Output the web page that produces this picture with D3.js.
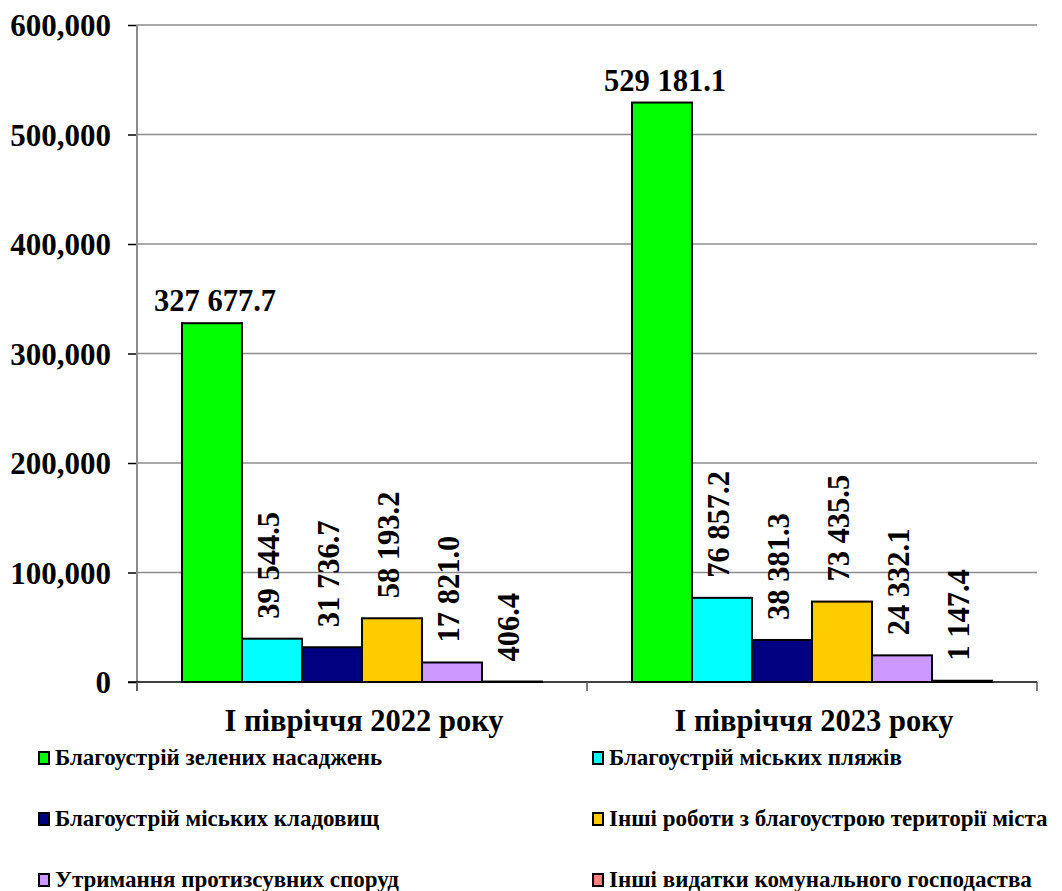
<!DOCTYPE html>
<html>
<head>
<meta charset="utf-8">
<script src="https://cdn.jsdelivr.net/npm/d3@7"></script>
<style>
html,body{margin:0;padding:0;background:#fff;}
</style>
</head>
<body>
<svg id="chart" width="1062" height="891"></svg>
<script>
const categories = ["І півріччя 2022 року", "І півріччя 2023 року"];
const seriesNames = [
  "Благоустрій зелених насаджень",
  "Благоустрій міських пляжів",
  "Благоустрій міських кладовищ",
  "Інші роботи з благоустрою території міста",
  "Утримання протизсувних споруд",
  "Інші видатки комунального господаства"
];
const values2022 = [327677.7, 39544.5, 31736.7, 58193.2, 17821.0, 406.4];
const values2023 = [529181.1, 76857.2, 38381.3, 73435.5, 24332.1, 1147.4];
const labels2022 = ["327 677.7", "39 544.5", "31 736.7", "58 193.2", "17 821.0", "406.4"];
const labels2023 = ["529 181.1", "76 857.2", "38 381.3", "73 435.5", "24 332.1", "1 147.4"];
const colors = ["#00FF00", "#00FFFF", "#000080", "#FFCC00", "#CC99FF", "#FF8080"];
const yTicks = [0, 100000, 200000, 300000, 400000, 500000, 600000];
const yTickLabels = ["0", "100,000", "200,000", "300,000", "400,000", "500,000", "600,000"];

(function () {
const seriesValues = [values2022, values2023];
const seriesLabels = [labels2022, labels2023];
const FONT = "'Liberation Serif', 'Times New Roman', Tinos, serif";

const svg = d3.select("#chart").attr("font-family", FONT).attr("font-weight", "bold");
const mLeft = 137, mRight = 1037, mTop = 25, mBottom = 682;

const x0 = d3.scaleBand().domain(categories).range([mLeft, mRight]).paddingInner(0).paddingOuter(0);
const x1 = d3.scaleBand().domain(d3.range(seriesNames.length)).range([0, x0.bandwidth()]).paddingInner(0).paddingOuter(0.75);
const y = d3.scaleLinear().domain([0, 600000]).range([mBottom, mTop]);

// gridlines
svg.append("g").selectAll("line").data(yTicks.filter(d => d > 0)).join("line")
  .attr("x1", mLeft).attr("x2", mRight)
  .attr("y1", d => y(d)).attr("y2", d => y(d))
  .attr("stroke", "#8c8c8c").attr("stroke-width", 1.5);

// y axis
const yAxis = d3.axisLeft(y).tickValues(yTicks).tickSize(9).tickPadding(17)
  .tickFormat((d, i) => yTickLabels[i]);
const gy = svg.append("g").attr("transform", `translate(${mLeft},0)`).call(yAxis)
  .attr("font-family", FONT);
gy.select(".domain").remove();
gy.selectAll(".tick line").attr("stroke", "#000").attr("stroke-width", 1.5);
gy.selectAll(".tick text").attr("font-size", 31)
  .attr("font-weight", "bold").attr("fill", "#000").attr("dy", "0.35em");
svg.append("line").attr("x1", mLeft).attr("x2", mLeft).attr("y1", mTop).attr("y2", mBottom + 9)
  .attr("stroke", "#8c8c8c").attr("stroke-width", 2);

// bars
const groups = svg.append("g").selectAll("g").data(categories).join("g")
  .attr("transform", d => `translate(${x0(d)},0)`);

groups.each(function(cat, ci) {
  const g = d3.select(this);
  const vals = seriesValues[ci];
  g.selectAll("rect").data(vals).join("rect")
    .attr("x", (d, i) => x1(i))
    .attr("width", x1.bandwidth())
    .attr("y", d => y(d))
    .attr("height", d => Math.max(0, y(0) - y(d)))
    .attr("fill", (d, i) => colors[i])
    .attr("stroke", "#000").attr("stroke-width", 2);
  g.selectAll("text.lbl").data(vals).join("text")
    .attr("class", "lbl")
    .attr("font-size", 30.5)
    .attr("fill", "#000")
    .each(function(d, i) {
      const t = d3.select(this).text(seriesLabels[ci][i]);
      const cx = x1(i) + x1.bandwidth() / 2;
      if (i === 0) {
        t.attr("x", cx + 3).attr("y", y(d) - 12).attr("text-anchor", "middle");
      } else {
        t.attr("text-anchor", "start")
         .attr("transform", `translate(${cx + 7},${y(d) - 20}) rotate(-90)`);
      }
    });
});

// x axis line
svg.append("line").attr("x1", mLeft - 9).attr("x2", mRight).attr("y1", mBottom).attr("y2", mBottom)
  .attr("stroke", "#000").attr("stroke-width", 1.5);
const xTicks = [mLeft, ...categories.map(c => x0(c) + x0.bandwidth())];
svg.append("g").selectAll("line").data(xTicks).join("line")
  .attr("x1", d => d).attr("x2", d => d).attr("y1", mBottom).attr("y2", mBottom + 9)
  .attr("stroke", "#555").attr("stroke-width", 1.5);

// category labels
svg.append("g").selectAll("text").data(categories).join("text")
  .attr("x", d => x0(d) + x0.bandwidth() / 2 + 2)
  .attr("y", 731)
  .attr("text-anchor", "middle")
  .attr("font-size", 30.5)
  .text(d => d);

// legend
const legend = svg.append("g").selectAll("g").data(seriesNames).join("g")
  .attr("transform", (d, i) => `translate(${i % 2 === 0 ? 39 : 593},${752 + Math.floor(i / 2) * 61})`);
legend.append("rect").attr("x", 0).attr("y", 0).attr("width", 10).attr("height", 12)
  .attr("fill", (d, i) => colors[i]).attr("stroke", "#000").attr("stroke-width", 2);
legend.append("text").attr("x", 16).attr("y", 13).attr("font-size", 23).text(d => d);
})();
</script>
</body>
</html>
